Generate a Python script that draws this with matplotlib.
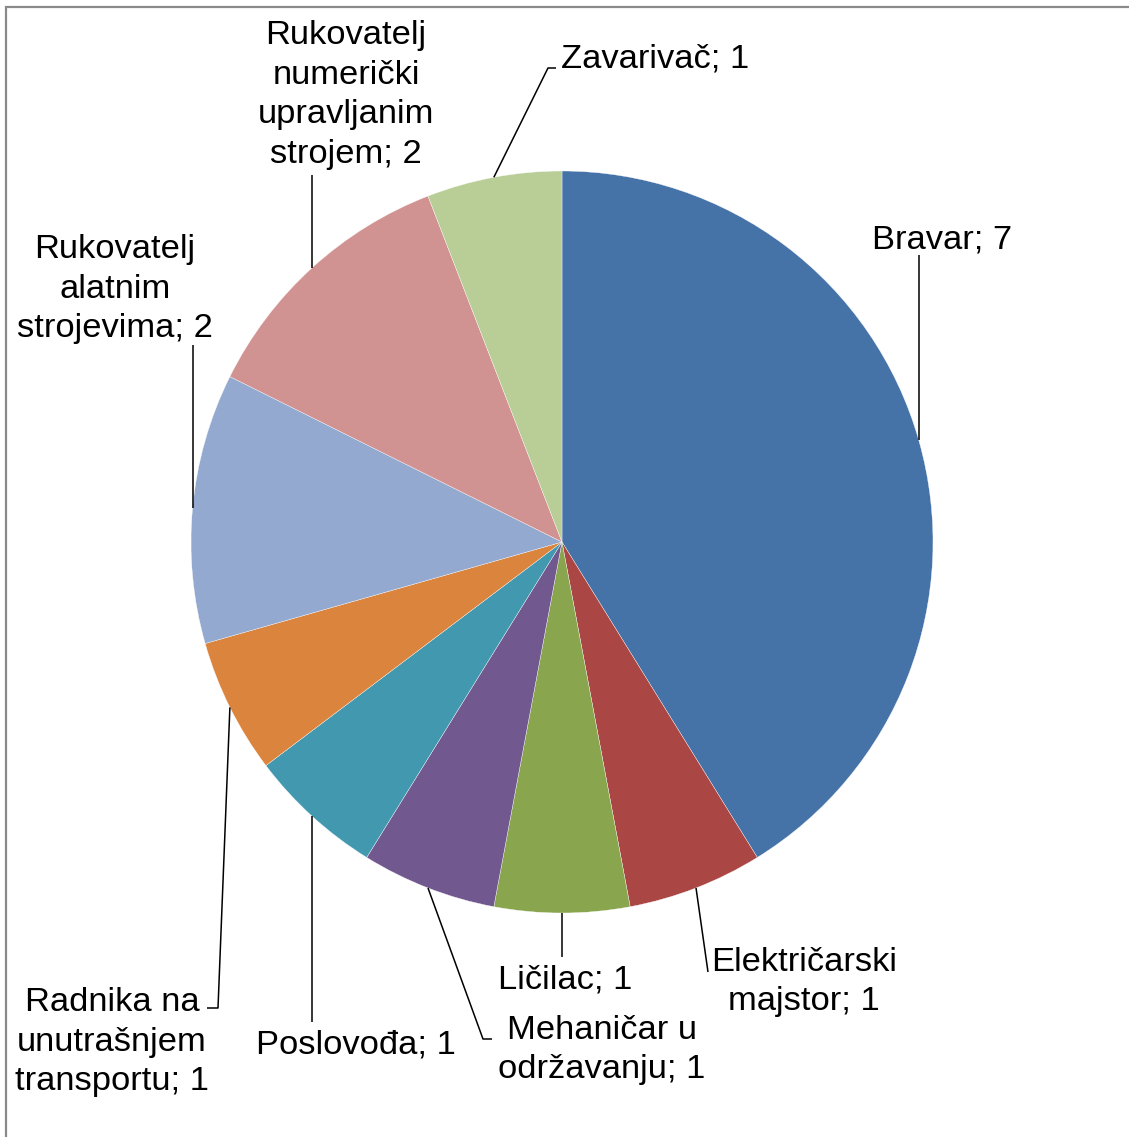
import numpy as np
import matplotlib
matplotlib.use("Agg")
from matplotlib import pyplot as plt
from matplotlib.patches import Rectangle

plt.rcParams['font.family'] = ['Liberation Sans', 'DejaVu Sans']

# data
occupations = ['Bravar', 'Električarski\nmajstor', 'Ličilac', 'Mehaničar u\nodržavanju',
               'Poslovođa', 'Radnika na\nunutrašnjem\ntransportu',
               'Rukovatelj\nalatnim\nstrojevima', 'Rukovatelj\nnumerički\nupravljanim\nstrojem',
               'Zavarivač']
counts = [7, 1, 1, 1, 1, 1, 2, 2, 1]
colors = ['#4572A7', '#AA4643', '#89A54E', '#71588F', '#4198AF',
          '#DB843D', '#93A9CF', '#D19392', '#B9CD96']

# layout (pixel space of the picture)
W, H = 1129, 1137
center = (562, 542)
radius = 371
label_pos = [(942, 240), (804, 982), (565, 980), (602, 1050), (356, 1045),
             (112, 1042), (115, 289), (346, 95), (655, 59)]
# where each leader line ends (after leaving the slice), extra elbow optional
leader_end = [[None, 255], [708, 972], [None, 957], [483, 1039, 492, 1039],
              [None, 1022], [218, 1008, 207, 1008], [None, 345], [None, 175],
              [548, 68, 556, 68]]

fig = plt.figure(figsize=(W / 100, H / 100), dpi=100)
ax = fig.add_axes([0, 0, 1, 1])
wedges, _ = ax.pie(counts, colors=colors, center=center, radius=radius,
                   startangle=-90, counterclock=True,
                   wedgeprops=dict(edgecolor='white', linewidth=0.25))
ax.set_xlim(0, W)
ax.set_ylim(H, 0)
ax.set_aspect('auto')
ax.axis('off')

for w, name, n, pos, end in zip(wedges, occupations, counts, label_pos, leader_end):
    mid = np.deg2rad((w.theta1 + w.theta2) / 2)
    sx = center[0] + radius * np.cos(mid)
    sy = center[1] + radius * np.sin(mid)
    ex = sx if end[0] is None else end[0]
    xs, ys = [sx, ex], [sy, end[1]]
    if len(end) == 4:
        xs.append(end[2])
        ys.append(end[3])
    ax.plot(xs, ys, color='black', linewidth=1.1, solid_capstyle='butt')
    ax.text(pos[0], pos[1], f'{name}; {n}', ha='center', va='center',
            multialignment='center', fontsize=24.8, linespacing=1.36,
            color='black')

# outer frame of the chart area
fig.patches.append(Rectangle((6 / W, -0.1), 1.2, 1 - 7 / H + 0.1,
                             transform=fig.transFigure, fill=False,
                             edgecolor='#8a8a8a', linewidth=1.6))

fig.savefig('out.png', dpi=100)
